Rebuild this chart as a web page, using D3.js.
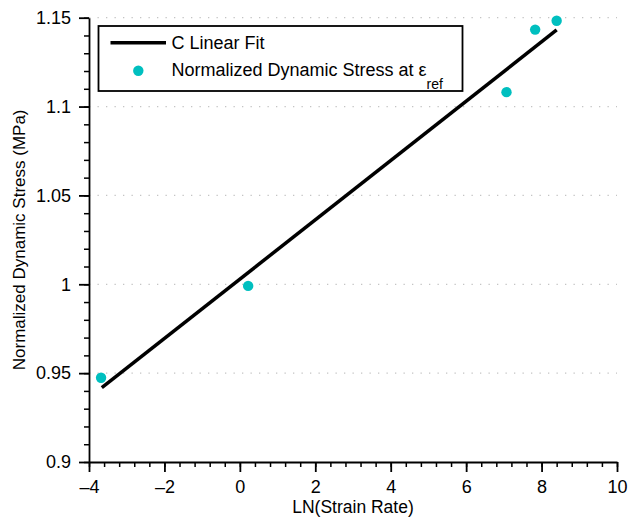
<!DOCTYPE html>
<html>
<head>
<meta charset="utf-8">
<script src="https://cdn.jsdelivr.net/npm/d3@7"></script>
<style>
  html, body { margin: 0; padding: 0; background: #fff; }
  svg { display: block; font-family: "Liberation Sans", Arial, Helvetica, sans-serif; }
</style>
</head>
<body>
<div id="chart"></div>
<script>
// ---- Data ----
const lnStrainRate = [-3.68, 0.22, 7.07, 7.83, 8.40];
const normStress   = [0.9474, 0.9991, 1.1081, 1.1433, 1.1483];
const fitX = [-3.66, 8.40];
const fitY = [0.9418, 1.1431];
const xTicks = [-4, -2, 0, 2, 4, 6, 8, 10];
const yTicks = [0.9, 0.95, 1, 1.05, 1.1, 1.15];
const yTickLabels = ["0.9", "0.95", "1", "1.05", "1.1", "1.15"];
const xLabel = "LN(Strain Rate)";
const yLabel = "Normalized Dynamic Stress (MPa)";
const legendLabels = ["C Linear Fit", "Normalized Dynamic Stress at ε"];

// ---- Layout ----
const W = 628, H = 517;
const margin = { left: 89, right: 11, top: 17.7, bottom: 55 };
const iw = W - margin.left - margin.right;
const ih = H - margin.top - margin.bottom;
const teal = "#00BFBF";

const svg = d3.select("#chart").append("svg").attr("width", W).attr("height", H);
const g = svg.append("g").attr("transform", `translate(${margin.left},${margin.top})`);

const x = d3.scaleLinear().domain([-4, 10]).range([0, iw]);
const y = d3.scaleLinear().domain([0.9, 1.15]).range([ih, 0]);

// grid (dotted horizontal)
g.append("g").selectAll("line").data(yTicks.filter(v => v > 0.9)).join("line")
  .attr("x1", 0).attr("x2", iw)
  .attr("y1", d => y(d)).attr("y2", d => y(d))
  .attr("stroke", "#c4c4c4").attr("stroke-width", 1.2)
  .attr("stroke-dasharray", "1.3,7.2");

// minor ticks
const xMinor = d3.range(-4, 10.001, 0.4).map(v => +v.toFixed(2));
const yMinor = d3.range(0.9, 1.1501, 0.01).map(v => +v.toFixed(3));
g.append("g").attr("transform", `translate(0,${ih})`)
  .call(d3.axisBottom(x).tickValues(xMinor).tickSize(5).tickSizeOuter(0).tickFormat(""))
  .call(s => s.selectAll("line").attr("stroke-width", 1.5))
  .call(s => s.select(".domain").remove());
g.append("g")
  .call(d3.axisLeft(y).tickValues(yMinor).tickSize(5).tickSizeOuter(0).tickFormat(""))
  .call(s => s.selectAll("line").attr("stroke-width", 1.5))
  .call(s => s.select(".domain").remove());

// major axes
const xAxis = g.append("g").attr("transform", `translate(0,${ih})`)
  .call(d3.axisBottom(x).tickValues(xTicks).tickSize(10).tickSizeOuter(0).tickPadding(8)
    .tickFormat(d => d < 0 ? "\u2013" + Math.abs(d) : String(d)));
const yAxis = g.append("g")
  .call(d3.axisLeft(y).tickValues(yTicks).tickSize(10).tickSizeOuter(0).tickPadding(8)
    .tickFormat((d, i) => yTickLabels[i]));
[xAxis, yAxis].forEach(a => {
  a.select(".domain").attr("stroke-width", 1.8);
  a.selectAll(".tick line").attr("stroke-width", 1.8);
  a.selectAll("text").attr("font-size", 18).attr("fill", "#000")
    .attr("font-family", "'Liberation Sans', Arial, sans-serif");
});

// axis titles
svg.append("text").attr("x", margin.left + iw / 2).attr("y", 512.5)
  .attr("text-anchor", "middle").attr("font-size", 17.5).text(xLabel);
svg.append("text").attr("transform", `translate(25,${margin.top + ih / 2}) rotate(-90)`)
  .attr("text-anchor", "middle").attr("font-size", 17).text(yLabel);

// fit line
const line = d3.line().x(d => x(d[0])).y(d => y(d[1]));
g.append("path").datum(fitX.map((v, i) => [v, fitY[i]]))
  .attr("d", line).attr("fill", "none").attr("stroke", "#000").attr("stroke-width", 3.5);

// points
g.append("g").selectAll("circle").data(lnStrainRate.map((v, i) => [v, normStress[i]])).join("circle")
  .attr("cx", d => x(d[0])).attr("cy", d => y(d[1])).attr("r", 5.2).attr("fill", teal);

// legend
const lg = svg.append("g");
lg.append("rect").attr("x", 98.5).attr("y", 26).attr("width", 364).attr("height", 65)
  .attr("fill", "#fff").attr("stroke", "#000").attr("stroke-width", 1.8);
lg.append("line").attr("x1", 110.5).attr("x2", 166).attr("y1", 42.7).attr("y2", 42.7)
  .attr("stroke", "#000").attr("stroke-width", 3.5);
lg.append("text").attr("x", 171.5).attr("y", 49).attr("font-size", 18).text(legendLabels[0]);
lg.append("circle").attr("cx", 138.3).attr("cy", 70.7).attr("r", 5.2).attr("fill", teal);
const t2 = lg.append("text").attr("x", 171.5).attr("y", 76).attr("font-size", 18);
t2.append("tspan").text(legendLabels[1]);
t2.append("tspan").attr("dy", 13).attr("font-size", 14).text("ref");
</script>
</body>
</html>
